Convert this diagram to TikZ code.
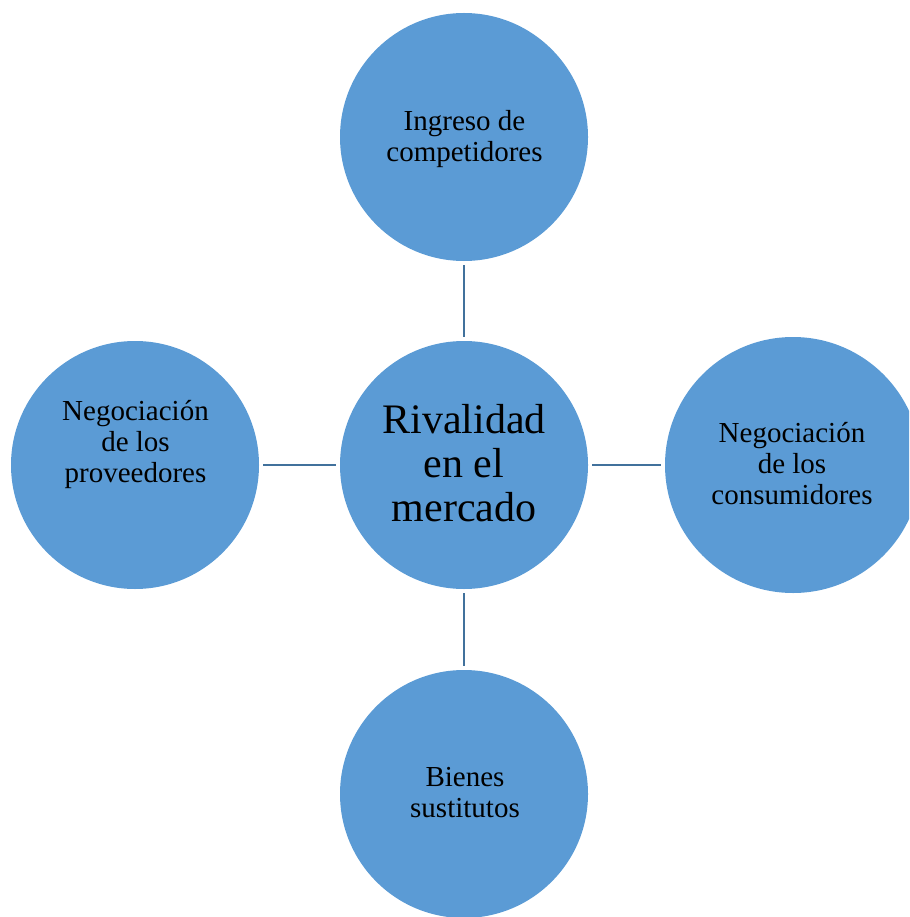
\documentclass[tikz,border=0pt]{standalone}
\usepackage{fontspec}
\setmainfont{Liberation Serif}
\definecolor{circfill}{HTML}{5B9BD5}
\definecolor{linkcol}{HTML}{41719C}
\begin{document}
\begin{tikzpicture}[x=1pt,y=-1pt,
  bubble/.style={circle,fill=circfill,draw=none,minimum size=#1,inner sep=0pt},
  bubble/.default=248pt,
  smalltext/.style={font=\fontsize{29}{31}\selectfont,align=center,inner sep=0pt,text=black},
  bigtext/.style={font=\fontsize{42}{44}\selectfont,align=center,inner sep=0pt,text=black},
  link/.style={draw=linkcol,line width=2.6pt,shorten <=4pt,shorten >=4pt}]
\useasboundingbox (0,0) rectangle (909,917);
\clip (0,0) rectangle (909,917);
\node[bubble] (top) at (464,137) {};
\node[bubble] (mid) at (464,465) {};
\node[bubble] (left) at (135,465) {};
\node[bubble=256pt] (right) at (793,465) {};
\node[bubble] (bottom) at (464,794) {};
\draw[link] (top) -- (mid);
\draw[link] (left) -- (mid);
\draw[link] (mid) -- (right);
\draw[link] (mid) -- (bottom);
\node[smalltext] (ttop) at (464.5,139.5) {Ingreso de\\competidores};
\node[bigtext] (tmid) at (464,463) {Rivalidad\\en el\\mercado};
\node[smalltext] (tleft) at (135.5,444.5) {Negociación\\de los\\proveedores};
\node[smalltext] (tright) at (792,463.5) {Negociación\\de los\\consumidores};
\node[smalltext] (tbottom) at (465,793) {Bienes\\sustitutos};
\end{tikzpicture}
\end{document}
